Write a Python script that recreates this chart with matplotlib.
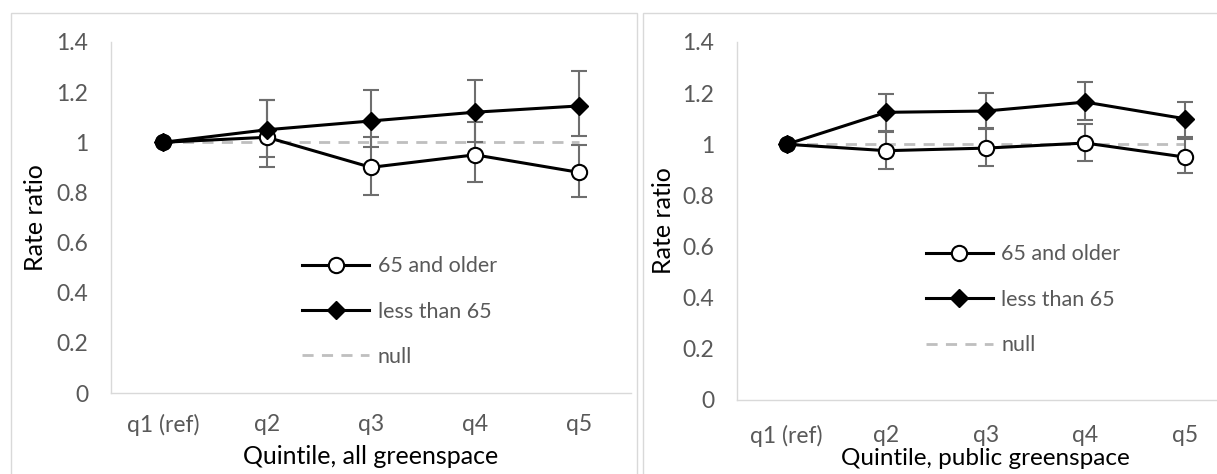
import numpy as np
import matplotlib
matplotlib.use("Agg")
import matplotlib.pyplot as plt
from matplotlib.patches import Rectangle

plt.rcParams['font.family'] = ['Lato', 'DejaVu Sans']

quintiles = ['q1 (ref)', 'q2', 'q3', 'q4', 'q5']

# all greenspace
all_old = [1.0, 1.02, 0.90, 0.95, 0.88]
all_old_lo = [1.0, 0.90, 0.79, 0.84, 0.78]
all_old_hi = [1.0, 1.17, 1.02, 1.08, 0.99]
all_young = [1.0, 1.05, 1.085, 1.12, 1.145]
all_young_lo = [1.0, 0.94, 0.98, 1.00, 1.025]
all_young_hi = [1.0, 1.17, 1.21, 1.25, 1.285]

# public greenspace
pub_old = [1.0, 0.975, 0.985, 1.005, 0.95]
pub_old_lo = [1.0, 0.905, 0.915, 0.935, 0.887]
pub_old_hi = [1.0, 1.047, 1.06, 1.078, 1.021]
pub_young = [1.0, 1.125, 1.13, 1.165, 1.10]
pub_young_lo = [1.0, 1.053, 1.065, 1.095, 1.03]
pub_young_hi = [1.0, 1.197, 1.20, 1.243, 1.167]

null = [1, 1, 1, 1, 1]

W, H = 1217, 474
fig = plt.figure(figsize=(W / 100, H / 100), dpi=100)

grid = '#d9d9d9'
tick_c = '#595959'
err_c = '#6e6e6e'


def panel(rect, old, old_lo, old_hi, young, young_lo, young_hi, xlabel, xpad, title_y, title_fs, leg_xy):
    ax = fig.add_axes(rect)
    x = np.arange(len(quintiles))
    old = np.array(old); young = np.array(young)
    ln, = ax.plot(x, null, color='#bfbfbf', lw=2, dashes=(4, 3), zorder=2, label='null')
    ax.errorbar(x[1:], old[1:], yerr=[old[1:] - np.array(old_lo[1:]), np.array(old_hi[1:]) - old[1:]],
                fmt='none', ecolor=err_c, elinewidth=1.5, capsize=6, capthick=1.5, zorder=3)
    ax.errorbar(x[1:], young[1:], yerr=[young[1:] - np.array(young_lo[1:]), np.array(young_hi[1:]) - young[1:]],
                fmt='none', ecolor=err_c, elinewidth=1.5, capsize=6, capthick=1.5, zorder=3)
    l1, = ax.plot(x, old, color='black', lw=2.2, marker='o', ms=11, mfc='white', mec='black', mew=1.5,
                  zorder=4, label='65 and older')
    l2, = ax.plot(x, young, color='black', lw=2.2, marker='D', ms=9, mfc='black', mec='black',
                  zorder=5, label='less than 65')
    ax.plot(x[0], old[0], marker='o', ms=11, mfc='black', mec='black', zorder=6)
    ax.set_xlim(-0.5, 4.5)
    ax.set_ylim(0, 1.4)
    ax.set_yticks(np.arange(0, 1.41, 0.2))
    ax.set_yticklabels(['0', '0.2', '0.4', '0.6', '0.8', '1', '1.2', '1.4'])
    ax.set_xticks(x)
    ax.set_xticklabels(quintiles)
    ax.tick_params(length=0, colors=tick_c, labelsize=16.5)
    ax.tick_params(axis='y', pad=16.5)
    ax.tick_params(axis='x', pad=xpad)
    for s in ['top', 'right']:
        ax.spines[s].set_visible(False)
    for s in ['left', 'bottom']:
        ax.spines[s].set_color(grid)
        ax.spines[s].set_linewidth(1)
    ax.set_ylabel('Rate ratio', fontsize=18, color='black')
    ax.set_xlabel(xlabel, fontsize=title_fs, color='black')
    ax.yaxis.set_label_coords(-0.124, 0.5)
    ax.xaxis.set_label_coords(0.5, title_y)
    leg = ax.legend([l1, l2, ln], ['65 and older', 'less than 65', 'null'], loc='upper left',
                    bbox_to_anchor=leg_xy, frameon=False, fontsize=15.5, handlelength=3.1,
                    handletextpad=0.4, labelspacing=1.18, borderpad=0, borderaxespad=0)
    for t in leg.get_texts():
        t.set_color(tick_c)
    return ax


panel([111 / W, 81 / H, 520 / W, 351 / H], all_old, all_old_lo, all_old_hi,
      all_young, all_young_lo, all_young_hi, 'Quintile, all greenspace', 15, -0.147, 18, (0.368, 0.39))
panel([737 / W, 74 / H, 497.5 / W, 358 / H], pub_old, pub_old_lo, pub_old_hi,
      pub_young, pub_young_lo, pub_young_hi, 'Quintile, public greenspace', 18, -0.133, 17.5, (0.38, 0.435))

# chart area frames
fig.patches.append(Rectangle((11 / W, -0.1), 626 / W, (H - 13) / H + 0.1, transform=fig.transFigure,
                             fill=False, edgecolor=grid, lw=1))
fig.patches.append(Rectangle((643 / W, -0.1), 0.6, (H - 13) / H + 0.1, transform=fig.transFigure,
                             fill=False, edgecolor=grid, lw=1))

fig.savefig('out.png', dpi=100)
